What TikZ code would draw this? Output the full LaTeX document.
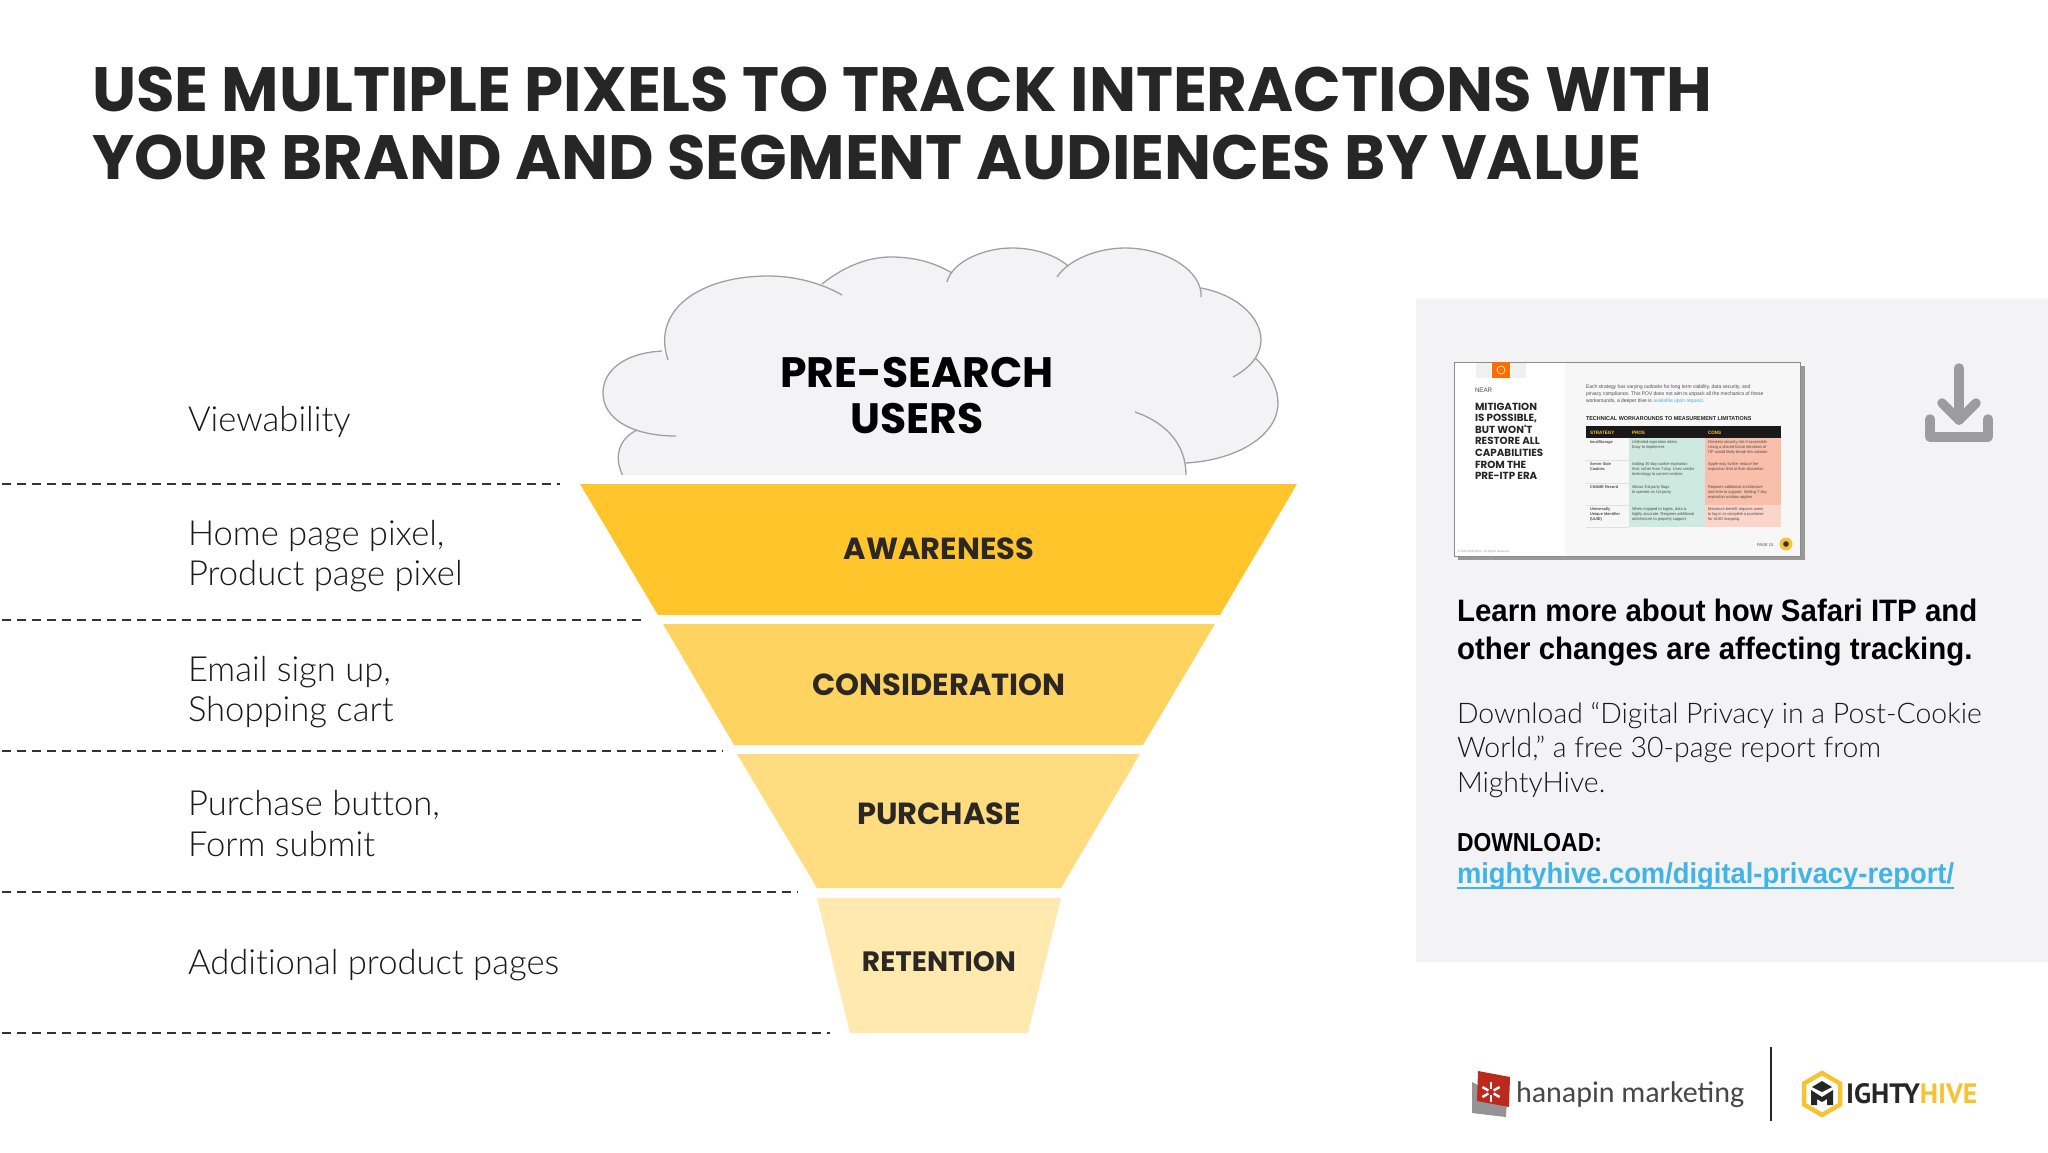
\documentclass[tikz,border=0pt]{standalone}
\usepackage{fontspec}
\setmainfont{Liberation Sans}[FakeStretch=0.95]
\newfontfamily\headfont{Poppins}
\newfontfamily\lightfont{Lato Light}[Ligatures=NoCommon]
\newfontfamily\capsfont{Liberation Sans}[FakeStretch=0.88]
\newfontfamily\logofont{PT Sans}
\newfontfamily\hanapinfont{Carlito}
\definecolor{panelgray}{HTML}{F3F2F4}
\definecolor{cloudline}{HTML}{A0A0A2}
\definecolor{iconcolor}{HTML}{9C9B9F}
\definecolor{inkdark}{HTML}{2B2724}
\definecolor{stagea}{HTML}{FFC52B}
\definecolor{stageb}{HTML}{FFD35F}
\definecolor{stagec}{HTML}{FFDC80}
\definecolor{staged}{HTML}{FFE9AE}
\definecolor{linkblue}{HTML}{41B4E6}
\definecolor{hiveyellow}{HTML}{F6C333}
\definecolor{prosgreen}{HTML}{CDE9E0}
\definecolor{consred}{HTML}{F9BFAB}
\definecolor{conspale}{HTML}{FBD5C9}
\definecolor{hanapinred}{HTML}{BC2A1E}
\begin{document}
\begin{tikzpicture}[
    x=1pt,y=-1pt,
    every node/.style={
        inner sep=0pt,
        outer sep=0pt,
    },
    titleline/.style={
        anchor=base west,
        font=\headfont\bfseries\fontsize{62.6}{68}\selectfont,
        text=black!85,
    },
    stagelabel/.style={
        anchor=base,
        font=\headfont\bfseries\fontsize{#1}{30}\selectfont,
        text=inkdark,
    },
    stagelabel/.default=30.5,
    cloudlabel/.style={
        anchor=base,
        font=\headfont\bfseries\fontsize{42.5}{46}\selectfont,
        text=black,
    },
    pixellabel/.style={
        anchor=base west,
        font=\lightfont\fontsize{34.6}{41}\selectfont,
        text=black!90,
    },
    cloudarc/.style={
        draw=cloudline,
        line width=1.3pt,
    },
    panelbold/.style={
        anchor=base west,
        font=\bfseries\fontsize{#1}{#1}\selectfont,
        text=black,
    },
    panellight/.style={
        anchor=base west,
        font=\lightfont\fontsize{28.4}{34}\selectfont,
        text=black!90,
    },
    tinytext/.style={
        anchor=north west,
        align=left,
        font=\fontsize{#1}{5}\selectfont,
        text=black!70,
    },
    tinytext/.default=4.1,
    rowtext/.style={
        tinytext,
        font=\bfseries\fontsize{4}{5}\selectfont,
    },
    tinyhead/.style={
        anchor=base west,
        font=\bfseries\fontsize{#1}{#1}\selectfont,
        text=black!85,
    },
    iconline/.style={
        draw=iconcolor,
        line width=9.5pt,
        line cap=round,
        line join=round,
    },
]
    \useasboundingbox (0,0) rectangle (2048,1152);

    % heading
    \node[titleline] (titlea) at (92,111.5) {USE MULTIPLE PIXELS TO TRACK INTERACTIONS WITH};
    \node[titleline] (titleb) at (92,179.5) {YOUR BRAND AND SEGMENT AUDIENCES BY VALUE};

    % cloud
    \fill[panelgray] (622.5,475) .. controls (614,458) and (618,439) .. (637,430)
        -- (676,436) .. controls (634,436) and (603,420) .. (603,393)
        .. controls (603,370) and (625,353) .. (662,351)
        -- (668,360) .. controls (651,310) and (700,276) .. (768,276)
        .. controls (797,276) and (823,284) .. (842,295)
        -- (822,284) .. controls (842,268) and (866,257) .. (891,257)
        .. controls (917,257) and (937,264) .. (952,273)
        -- (947,282) .. controls (952,262) and (983,248) .. (1012,248)
        .. controls (1036,248) and (1057,256) .. (1068,266)
        -- (1057,277) .. controls (1068,260) and (1097,248) .. (1125,248)
        .. controls (1167,248) and (1203,272) .. (1201,297)
        -- (1201,288) .. controls (1238,295) and (1261,318) .. (1261,340)
        .. controls (1261,355) and (1250,368) .. (1233,377)
        -- (1255,358) .. controls (1271,372) and (1278,390) .. (1278,403)
        .. controls (1278,435) and (1238,460) .. (1186,463)
        -- (1186,475) -- cycle;
    \draw[cloudarc] (622.5,475) .. controls (614,458) and (618,439) .. (637,430);
    \draw[cloudarc] (676,436) .. controls (634,436) and (603,420) .. (603,393)
        .. controls (603,370) and (625,353) .. (662,351);
    \draw[cloudarc] (668,360) .. controls (651,310) and (700,276) .. (768,276)
        .. controls (797,276) and (823,284) .. (842,295);
    \draw[cloudarc] (822,284) .. controls (842,268) and (866,257) .. (891,257)
        .. controls (917,257) and (937,264) .. (952,273);
    \draw[cloudarc] (947,282) .. controls (952,262) and (983,248) .. (1012,248)
        .. controls (1036,248) and (1057,256) .. (1068,266);
    \draw[cloudarc] (1057,277) .. controls (1068,260) and (1097,248) .. (1125,248)
        .. controls (1167,248) and (1203,272) .. (1201,297);
    \draw[cloudarc] (1201,288) .. controls (1238,295) and (1261,318) .. (1261,340)
        .. controls (1261,355) and (1250,368) .. (1233,377);
    \draw[cloudarc] (1255,358) .. controls (1271,372) and (1278,390) .. (1278,403)
        .. controls (1278,435) and (1238,460) .. (1186,463);
    \draw[cloudarc] (1135,412) .. controls (1167,423) and (1186,445) .. (1186,475);
    \node[cloudlabel] (cloudtexta) at (917,387) {PRE-SEARCH};
    \node[cloudlabel] (cloudtextb) at (917,433) {USERS};

    % funnel
    \fill[stagea] (580,484) -- (1297,484) -- (1220,615) -- (658,615) -- cycle;
    \fill[stageb] (663,624) -- (1215,624) -- (1143,745) -- (734,745) -- cycle;
    \fill[stagec] (737,754) -- (1140,754) -- (1061,888) -- (817,888) -- cycle;
    \fill[staged] (817,898) -- (1061,898) -- (1028,1033) -- (850,1033) -- cycle;
    \node[stagelabel] (awareness) at (939,559.5) {AWARENESS};
    \node[stagelabel] (consideration) at (939,695) {CONSIDERATION};
    \node[stagelabel] (purchase) at (939,824) {PURCHASE};
    \node[stagelabel=28] (retention) at (939,971) {RETENTION};

    % separators
    \foreach \y/\x in {484/560,620/646,751/723,892/798,1033/830}{
        \draw[black!80,line width=1.5pt,dash pattern=on 9pt off 6pt] (2,\y) -- (\x,\y);
    }

    % pixel names
    \node[pixellabel] (viewability) at (188,431) {Viewability};
    \node[pixellabel] (homepage) at (188,545) {Home page pixel,};
    \node[pixellabel] (productpage) at (188,585) {Product page pixel};
    \node[pixellabel] (emailsign) at (188,681) {Email sign up,};
    \node[pixellabel] (shopcart) at (188,721) {Shopping cart};
    \node[pixellabel] (purchasebtn) at (188,815) {Purchase button,};
    \node[pixellabel] (formsubmit) at (188,856) {Form submit};
    \node[pixellabel] (additional) at (188,974) {Additional product pages};

    % right panel
    \fill[panelgray] (1416,299) rectangle (2048,962);

    % report thumbnail
    \fill[black!40] (1458,366) rectangle (1805,560);
    \fill[white,draw=black!45,line width=1pt] (1454.5,362) rectangle (1800,556);
    \fill[black!3] (1565,363) rectangle (1799.5,555.5);
    \fill[black!6] (1476,363) rectangle (1491,378);
    \fill[black!6] (1511,363) rectangle (1526,378);
    \fill[orange!85!red] (1492,362) rectangle (1510,378);
    \draw[white,line width=.6pt] (1501,370) circle (4);
    \node[anchor=base west,font=\fontsize{6.5}{6.5}\selectfont,text=black!70] (near) at (1475,392) {NEAR};
    \foreach \y/\t [count=\i] in {
        410/MITIGATION,
        421.5/{IS POSSIBLE,},
        433/{BUT WON'T},
        444.7/{RESTORE ALL},
        456.3/CAPABILITIES,
        468/{FROM THE},
        479.5/PRE-ITP ERA
    }{
        \node[anchor=base west,font=\headfont\bfseries\fontsize{10.3}{10}\selectfont,text=black!85] (mitig\i) at (1475,\y) {\t};
    }
    \node[tinytext=5.2] (intro) at (1586,385) {Each strategy has varying outlooks for long term viability, data security, and\\[2pt]privacy compliance. This POV does not aim to unpack all the mechanics of these\\[2pt]workarounds, a deeper dive is \textcolor{linkblue}{available upon request.}};
    \node[tinyhead=5.7] (techhead) at (1586,420) {TECHNICAL WORKAROUNDS TO MEASUREMENT LIMITATIONS};
    \fill[black!90] (1586,426) rectangle (1780.5,438);
    \fill[prosgreen] (1629,438) rectangle (1705,527);
    \fill[consred] (1705,438) rectangle (1780.5,505);
    \fill[conspale] (1705,505) rectangle (1780.5,527);
    \foreach \y in {460,483,505,527}{
        \draw[black!12,line width=.4pt] (1586,\y) -- (1629,\y);
    }
    \foreach \x/\t in {1590/STRATEGY,1632/PROS,1708/CONS}{
        \node[anchor=base west,font=\bfseries\fontsize{4.8}{5}\selectfont,text=hiveyellow] (head\t) at (\x,434) {\t};
    }
    \node[rowtext] (rowa) at (1590,441) {localStorage};
    \node[tinytext] (prosa) at (1632,441) {Unlimited expiration dates.\\Easy to implement.};
    \node[tinytext] (consa) at (1708,441) {Greatest security risk if accessible.\\Using a shared future iterations of\\ITP would likely break this solution};
    \node[rowtext] (rowb) at (1590,463) {Server Side\\Cookies};
    \node[tinytext] (prosb) at (1632,463) {Adding 30-day cookie expiration\\limit, rather than 7-day. Uses similar\\technology to current cookies};
    \node[tinytext] (consb) at (1708,463) {Apple may further reduce the\\expiration limit at their discretion};
    \node[rowtext] (rowc) at (1590,486) {CNAME Record};
    \node[tinytext] (prosc) at (1632,486) {Allows 3rd-party flags\\to operate as 1st-party};
    \node[tinytext] (consc) at (1708,486) {Requires additional architecture\\and time to support. Adding 7-day\\expiration window applies};
    \node[rowtext] (rowd) at (1590,508) {Universally\\Unique Identifier\\(UUID)};
    \node[tinytext] (prosd) at (1632,508) {When mapped to logins, data is\\highly accurate. Requires additional\\architecture to properly support};
    \node[tinytext] (consd) at (1708,508) {Maximum benefit requires users\\to log in or complete a purchase\\for UUID mapping.};
    \node[anchor=base west,font=\fontsize{4.2}{4}\selectfont,text=black!70] (pagenum) at (1757,546) {PAGE 15};
    \fill[hiveyellow] (1786,544) circle (6.5);
    \fill[black!80] (1786,544) circle (2.8);
    \node[anchor=base west,font=\fontsize{3}{3}\selectfont,text=black!40] (rights) at (1458,552) {© 2019 MightyHive. All Rights Reserved.};

    % download icon
    \draw[iconline] (1959,368) -- (1959,420);
    \draw[iconline] (1942,403) -- (1959,420) -- (1976,403);
    \draw[iconline] (1930,419) -- (1930,437) -- (1988,437) -- (1988,419);

    % panel text
    \node[panelbold=31] (learna) at (1457,621) {Learn more about how Safari ITP and};
    \node[panelbold=31] (learnb) at (1457,659) {other changes are affecting tracking.};
    \node[panellight] (downa) at (1457,723) {Download “Digital Privacy in a Post-Cookie};
    \node[panellight] (downb) at (1457,757) {World,” a free 30-page report from};
    \node[panellight] (downc) at (1457,792) {MightyHive.};
    \node[panelbold=26,font=\capsfont\bfseries\fontsize{26}{26}\selectfont] (downhead) at (1457,851) {DOWNLOAD:};
    \node[panelbold=28.8,text=linkblue] (reportlink) at (1457,883) {mightyhive.com/digital-privacy-report/};
    \draw[linkblue,line width=1.5pt] (reportlink.base west) ++(0,5) -- ++(497,0);

    % logos
    \fill[black!42] (1472,1082) -- (1507,1100) -- (1506,1117) -- (1472,1113) -- cycle;
    \fill[hanapinred] (1478,1071) -- (1510,1077) -- (1509,1107) -- (1477,1101) -- cycle;
    \foreach \a in {30,90,...,330}{
        \draw[white,line width=2.4pt] (1491,1092) ++(\a:3) -- ++(\a:7);
    }
    \node[anchor=base west,font=\hanapinfont\fontsize{30}{30}\selectfont,text=black!72] (hanapin) at (1516,1102) {hanapin marketing};
    \draw[black!85,line width=1.3pt] (1771,1047) -- (1771,1121);
    \draw[hiveyellow,line width=4.5pt,line join=miter] (1822,1073) -- (1840,1083.5) -- (1840,1104.5) -- (1822,1115) -- (1804,1104.5) -- (1804,1083.5) -- cycle;
    \fill[black!85] (1822,1081) -- (1832,1087) -- (1822,1092) -- (1812,1087) -- cycle;
    \fill[black!85] (1811,1090) -- (1822,1097) -- (1833,1090) -- (1833,1105) -- (1827,1105) -- (1827,1099) -- (1822,1102) -- (1817,1099) -- (1817,1105) -- (1811,1105) -- cycle;
    \node[anchor=base west,font=\logofont\bfseries\fontsize{28}{28}\selectfont,text=black!85] (mighty) at (1846,1103) {IGHTY\textcolor{hiveyellow}{HIVE}};
\end{tikzpicture}
\end{document}
